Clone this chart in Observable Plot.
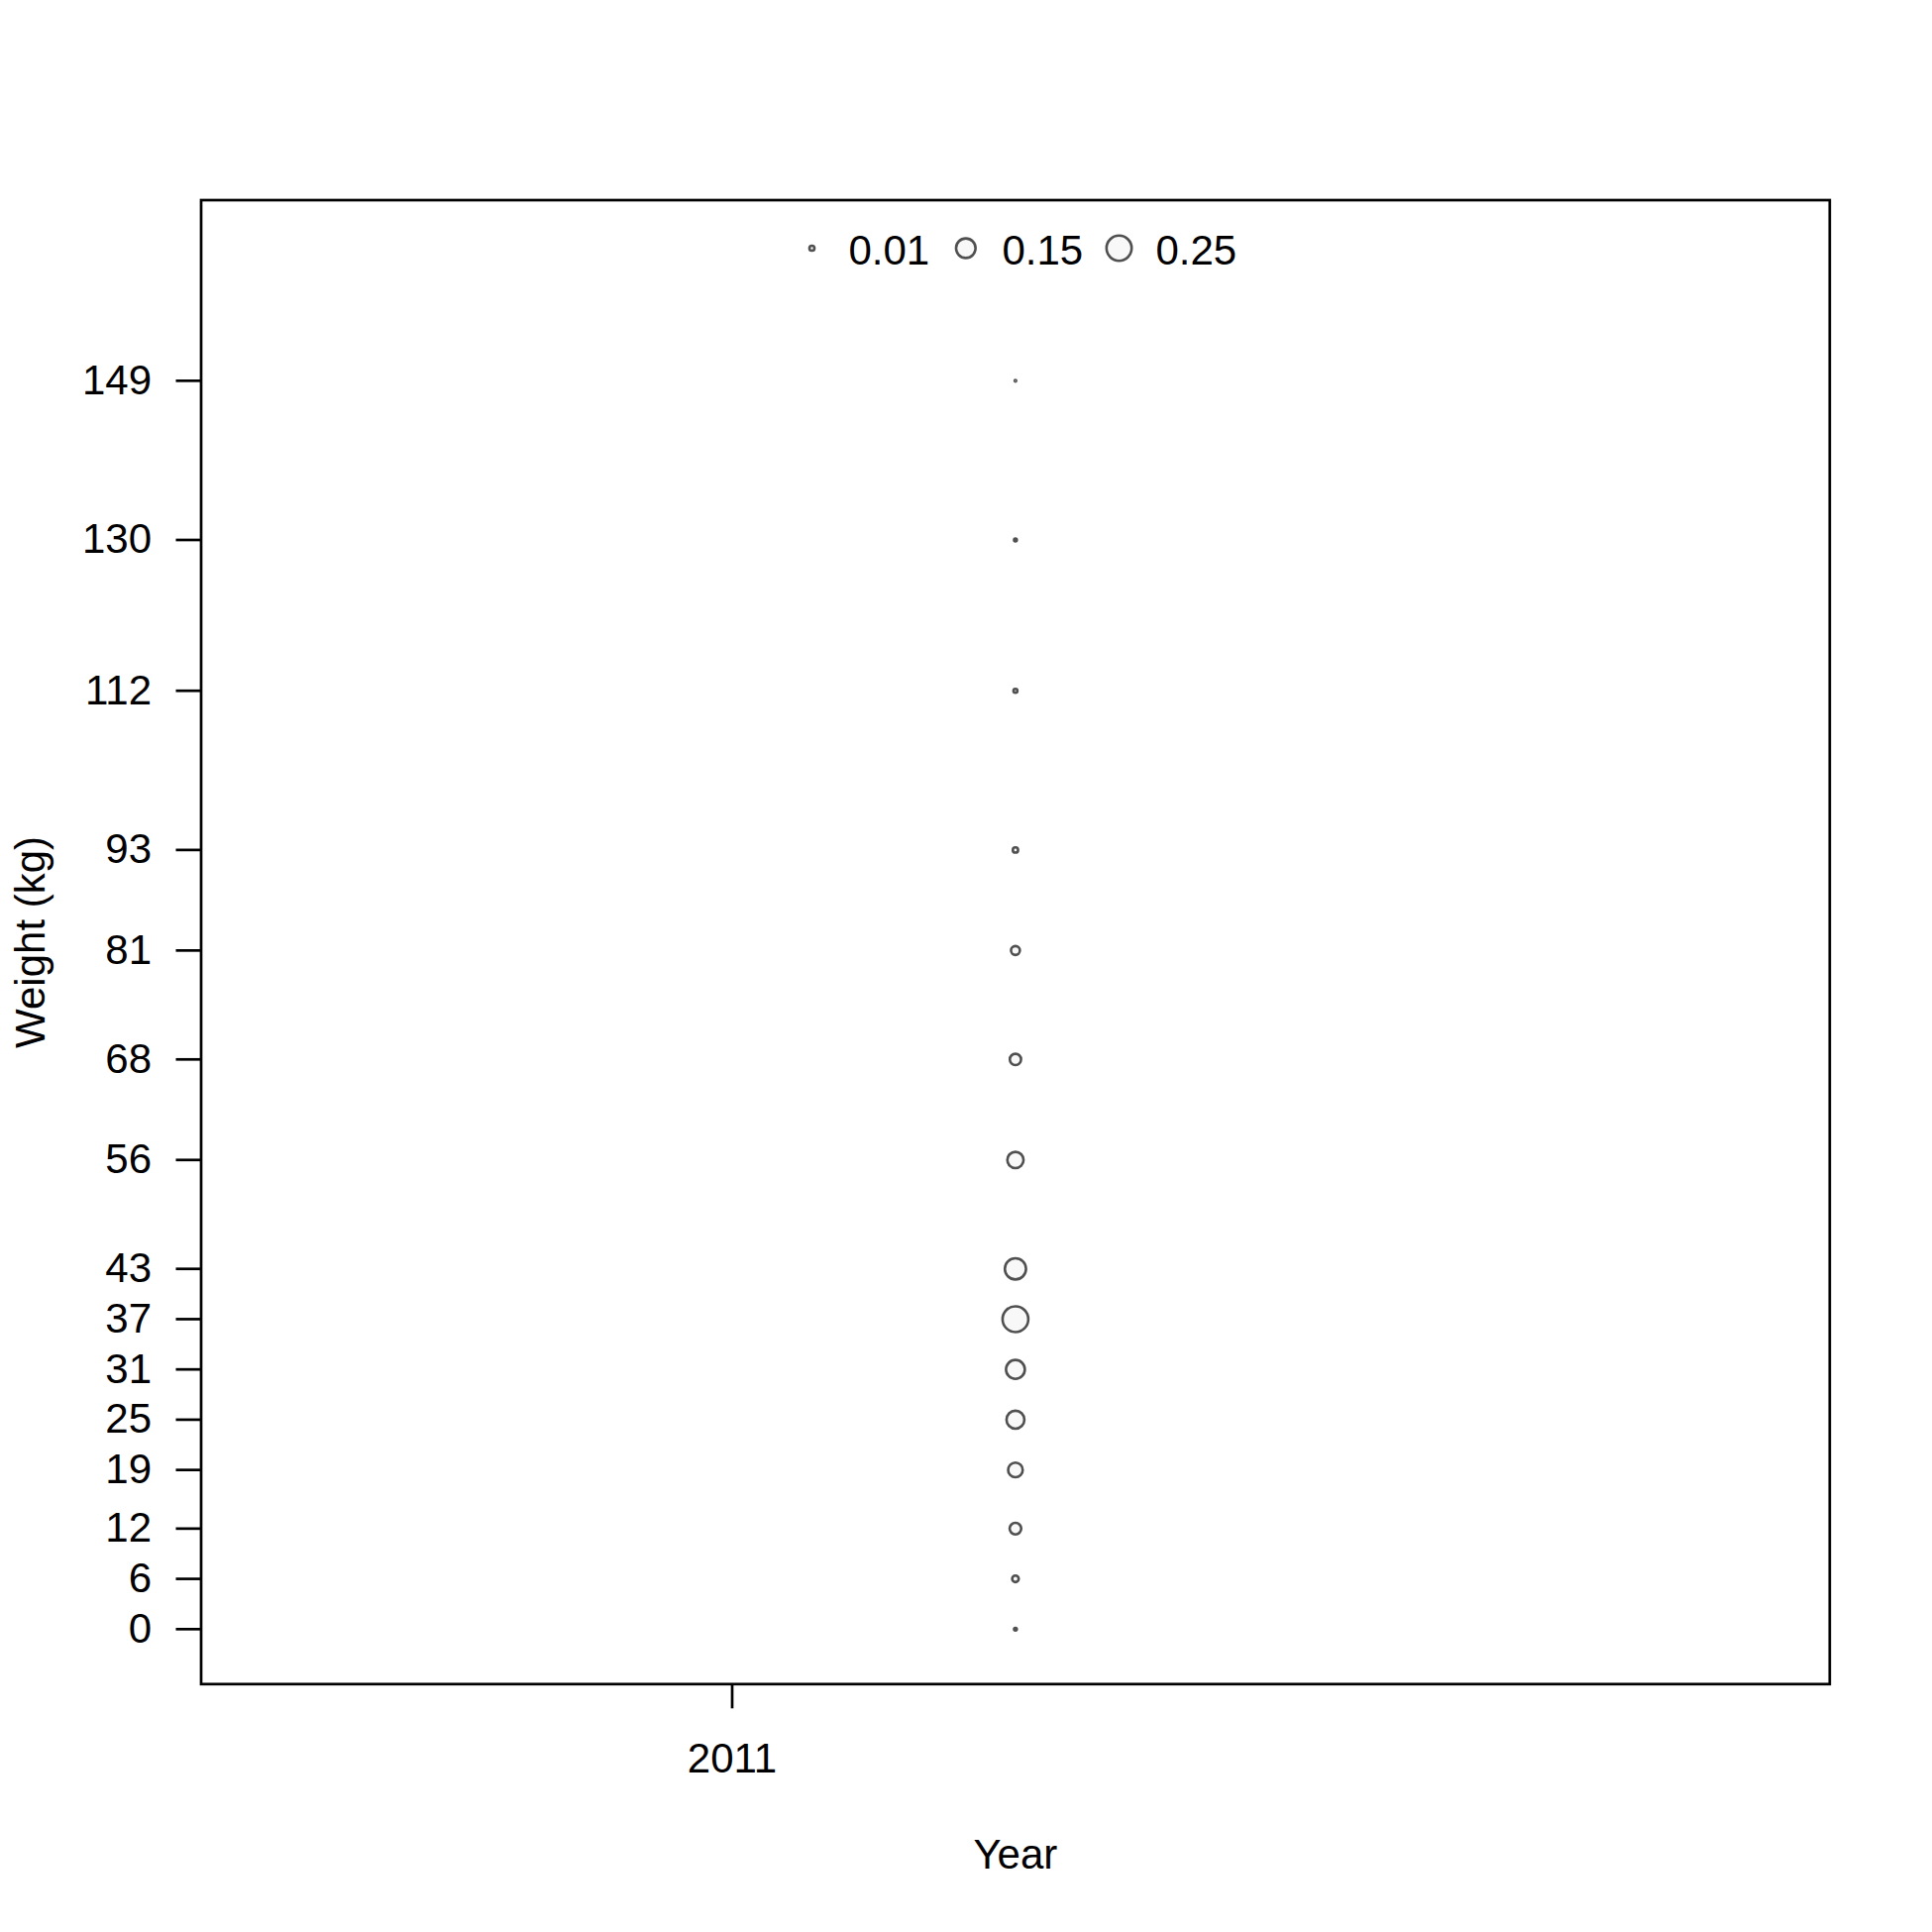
<!DOCTYPE html>
<html>
<head>
<meta charset="utf-8">
<script src="https://cdn.jsdelivr.net/npm/d3@7"></script>
<script src="https://cdn.jsdelivr.net/npm/@observablehq/plot@0.6"></script>
<style>
  html, body { margin: 0; padding: 0; background: #ffffff; }
  #chart { width: 1950px; height: 1950px; }
</style>
</head>
<body>
<div id="chart"></div>
<script>
// ---- data ----
const weights = [0, 6, 12, 19, 25, 31, 37, 43, 56, 68, 81, 93, 112, 130, 149];
const proportions = [0.003, 0.017, 0.053, 0.084, 0.126, 0.14, 0.262, 0.177, 0.104, 0.05, 0.031, 0.011, 0.006, 0.003, 0.001];
const pointYear = 2011.5;           // bubbles sit mid-way along the x range
const yTicks = [0, 6, 12, 19, 25, 31, 37, 43, 56, 68, 81, 93, 112, 130, 149];
const xTicks = [2011];
const legendValues = [0.01, 0.15, 0.25];
const legendLabels = ["0.01", "0.15", "0.25"];
const xTitle = "Year";
const yTitle = "Weight (kg)";

const rows = weights.map((w, i) => ({year: pointYear, weight: w, prop: proportions[i]}));

// legend layout offsets (pixels from the top centre of the frame)
const legendDotDx = [-205.4, -50.1, 104.6];
const legendTextDx = [-168.5, -13.5, 141.5];

const stroke = "#505050";
const fill = "#f8f8f8";
const fs = 42;

const legendMarks = [];
legendValues.forEach((v, i) => {
  legendMarks.push(Plot.dot([v], {frameAnchor: "top", r: d => d, dx: legendDotDx[i], dy: 48.5,
    stroke, fill, strokeWidth: 2.6}));
  legendMarks.push(Plot.text([legendLabels[i]], {frameAnchor: "top", text: d => d, dx: legendTextDx[i], dy: 52,
    textAnchor: "start", lineAnchor: "middle", fontSize: fs, fill: "black"}));
});

const chart = Plot.plot({
  width: 1950,
  height: 1950,
  marginLeft: 202.5,
  marginRight: 103.7,
  marginTop: 201.5,
  marginBottom: 250.7,
  style: {fontFamily: "'Liberation Sans', Arial, sans-serif", fontSize: fs + "px", color: "black", background: "white"},
  x: {domain: [2010.0626, 2012.9374], nice: false},
  y: {domain: [-6.56, 170.56], nice: false},
  r: {type: "sqrt", domain: [0, 0.25], range: [0, 12.7]},
  marks: [
    Plot.frame({stroke: "black", strokeWidth: 2.7}),
    Plot.axisY(yTicks, {anchor: "left", tickSize: 25, tickPadding: 25, strokeWidth: 2.7,
      tickFormat: d => String(d), fontSize: fs,
      label: yTitle, labelAnchor: "center", labelOffset: 188, labelArrow: "none"}),
    Plot.axisX(xTicks, {anchor: "bottom", tickSize: 25, tickPadding: 34, strokeWidth: 2.7,
      tickFormat: d => String(d), fontSize: fs,
      label: xTitle, labelAnchor: "center", labelOffset: 186.4, labelArrow: "none"}),
    Plot.dot(rows, {x: "year", y: "weight", r: "prop", stroke, fill, strokeWidth: 2.6}),
    ...legendMarks
  ]
});
document.getElementById("chart").appendChild(chart);
</script>
</body>
</html>
